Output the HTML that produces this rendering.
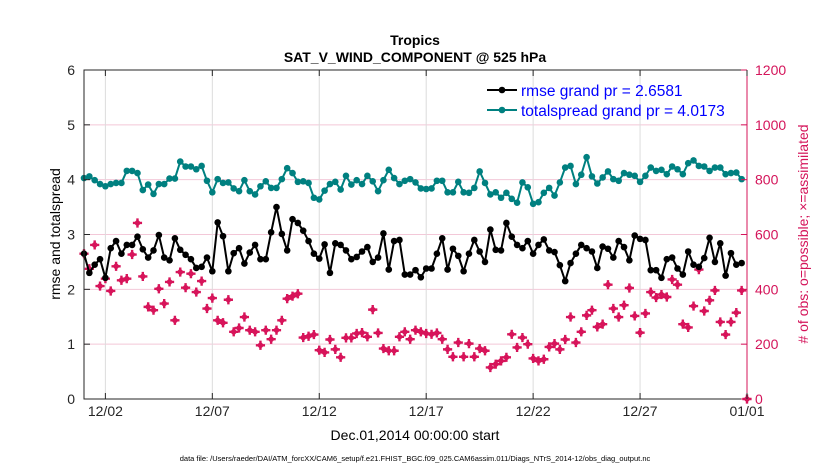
<!DOCTYPE html>
<html><head><meta charset="utf-8"><style>
body{margin:0;background:#fff;}
svg text{font-family:"Liberation Sans",Arial,sans-serif;}
</style></head><body>
<svg id="chart" width="830" height="470" viewBox="0 0 830 470" xmlns="http://www.w3.org/2000/svg">
<rect width="830" height="470" fill="#fff"/>
<g id="grid"></g>
<g id="series"></g>
<g id="axes"></g>
<g>
<line x1="487" y1="90" x2="517" y2="90" stroke="#000" stroke-width="2"/>
<circle cx="502" cy="90" r="3.3" fill="#000"/>
<text x="521" y="96" font-size="15.5" fill="#0000ff">rmse grand pr = 2.6581</text>
<line x1="487" y1="110" x2="517" y2="110" stroke="#008080" stroke-width="2"/>
<circle cx="502" cy="110" r="3.3" fill="#008080"/>
<text x="521" y="116" font-size="15.5" fill="#0000ff">totalspread grand pr = 4.0173</text>
</g>
<text x="415" y="45" text-anchor="middle" font-size="14" font-weight="bold">Tropics</text>
<text x="415" y="62" text-anchor="middle" font-size="14" font-weight="bold">SAT_V_WIND_COMPONENT @ 525 hPa</text>
<text transform="translate(60,234) rotate(-90)" text-anchor="middle" font-size="14">rmse and totalspread</text>
<text transform="translate(808,234) rotate(-90)" text-anchor="middle" font-size="14" fill="#d4145a"># of obs: o=possible; ×=assimilated</text>
<text x="415" y="440" text-anchor="middle" font-size="14">Dec.01,2014 00:00:00 start</text>
<text x="415" y="461" text-anchor="middle" font-size="7.5">data file: /Users/raeder/DAI/ATM_forcXX/CAM6_setup/f.e21.FHIST_BGC.f09_025.CAM6assim.011/Diags_NTrS_2014-12/obs_diag_output.nc</text>
</svg>
<script>
const rmse=[2.65,2.30,2.45,2.55,2.21,2.75,2.88,2.65,2.81,2.81,2.96,2.73,2.58,2.71,2.99,2.58,2.53,2.93,2.72,2.63,2.55,2.39,2.41,2.58,2.33,3.22,2.97,2.33,2.66,2.75,2.47,2.67,2.81,2.55,2.55,3.04,3.50,3.01,2.71,3.28,3.21,3.07,
2.88,2.65,2.56,2.82,2.30,2.84,2.81,2.71,2.55,2.59,2.69,2.77,2.50,2.58,3.02,2.36,2.88,2.90,2.27,2.27,2.35,2.22,2.38,2.38,2.65,2.93,2.36,2.74,2.61,2.33,2.65,2.90,2.69,2.50,3.09,2.72,2.71,3.21,2.96,2.81,2.75,
2.88,2.65,2.81,2.91,2.71,2.68,2.44,2.15,2.48,2.65,2.81,2.75,2.69,2.39,2.78,2.74,2.58,2.88,2.77,2.53,2.98,2.92,2.90,2.35,2.35,2.21,2.55,2.58,2.38,2.27,2.69,2.45,2.41,2.57,2.94,2.50,2.84,2.25,2.66,2.45,2.48];
const spread=[4.03,4.06,3.99,3.92,3.88,3.92,3.94,3.94,4.16,4.16,4.12,3.81,3.91,3.74,3.92,3.92,4.02,4.02,4.33,4.24,4.24,4.19,4.25,3.98,3.77,4.01,3.94,3.95,3.84,3.79,3.99,3.79,3.73,3.88,3.97,3.85,3.85,4.01,4.21,4.12,3.96,3.97,
3.94,3.67,3.64,3.80,3.92,3.96,3.82,4.07,3.91,3.99,3.92,4.07,3.97,3.79,3.99,4.18,4.03,3.92,3.98,4.01,3.95,3.84,3.83,3.84,3.98,3.98,3.77,3.77,3.96,3.77,3.76,3.85,4.15,3.94,3.73,3.77,3.67,3.76,3.65,3.58,3.95,
3.86,3.56,3.59,3.76,3.85,3.71,3.95,4.22,4.25,3.92,4.09,4.41,4.06,3.93,4.04,4.15,4.01,3.98,4.12,4.09,4.07,3.96,4.07,4.22,4.16,4.18,4.10,4.24,4.19,4.10,4.30,4.35,4.25,4.24,4.16,4.22,4.22,4.10,4.12,4.13,4.01];
const nobs=[530,475,562,412,439,394,484,433,439,527,642,447,336,324,402,348,427,287,463,406,457,390,430,330,368,287,278,362,245,259,299,251,245,196,251,218,251,287,366,375,384,224,
229,235,178,170,217,181,152,223,223,239,242,227,326,241,184,176,176,227,245,218,251,245,239,236,241,218,181,154,206,154,202,154,184,176,115,127,139,152,236,188,224,
200,148,139,145,190,202,181,217,299,206,245,305,324,263,273,417,330,299,342,405,303,242,312,390,370,381,372,436,417,273,261,339,472,321,360,396,281,235,281,315,396,0];
const leftTicks=[0,1,2,3,4,5,6];
const rightTicks=[0,200,400,600,800,1000,1200];
const dateTicks=[1,6,11,16,21,26,31];
const dateLabels=['12/02','12/07','12/12','12/17','12/22','12/27','01/01'];

const X0=84,X1=747,Y0=399,Y1=70;
const xs=d=>X0+(X1-X0)*d/31;
const xi=i=>xs(i*0.25);
const yl=v=>Y0-(Y0-Y1)*v/6;
const yr=v=>Y0-(Y0-Y1)*v/1200;
const NS='http://www.w3.org/2000/svg';
function mk(parent,tag,attrs){const e=document.createElementNS(NS,tag);for(const k in attrs)e.setAttribute(k,attrs[k]);parent.appendChild(e);return e;}
const grid=document.getElementById('grid'),ser=document.getElementById('series'),ax=document.getElementById('axes');

rightTicks.forEach(t=>{if(t>0&&t<1200){const l=mk(grid,'line',{x1:X0,x2:X1,y1:yr(t),y2:yr(t),stroke:'#f3c8d8','stroke-width':1});

}});
dateTicks.forEach(d=>{if(d<31){const l=mk(grid,'line',{x1:xs(d),x2:xs(d),y1:Y0,y2:Y1,stroke:'#dcdcdc','stroke-width':1});

}});

nobs.forEach((v,i)=>{const x=xi(i),y=yr(v);
const g=mk(ser,'path',{d:`M${x-3.8},${y}L${x},${y-3.8}L${x+3.8},${y}L${x},${y+3.8}Z M${x-1.2},${y-4.6}h2.4v9.2h-2.4z M${x-4.6},${y-1.2}h9.2v2.4h-9.2z`,fill:'#d7145a'});

});

function line(arr,color,name){
const p=mk(ser,'polyline',{points:arr.map((v,i)=>xi(i)+','+yl(v)).join(' '),fill:'none',stroke:color,'stroke-width':2});


arr.forEach((v,i)=>{const c=mk(ser,'circle',{cx:xi(i),cy:yl(v),r:3.3,fill:color});

});}
line(spread,'#008080','totalspread');
line(rmse,'#000000','rmse');

const axl=mk(ax,'path',{d:`M${X1},${Y1}H${X0}V${Y0}H${X1}`,fill:'none',stroke:'#262626','stroke-width':1});


const axr=mk(ax,'line',{x1:X1,x2:X1,y1:Y1,y2:Y0,stroke:'#d4145a','stroke-width':1});


leftTicks.forEach(t=>{mk(ax,'line',{x1:X0,x2:X0+6,y1:yl(t),y2:yl(t),stroke:'#262626'});
const tx=mk(ax,'text',{x:X0-9,y:yl(t)+5,'text-anchor':'end','font-size':14,fill:'#262626'});tx.textContent=t;

});
rightTicks.forEach(t=>{mk(ax,'line',{x1:X1-6,x2:X1,y1:yr(t),y2:yr(t),stroke:'#d4145a'});
const tx=mk(ax,'text',{x:X1+8,y:yr(t)+5,'font-size':14,fill:'#d4145a'});tx.textContent=t;

});
dateTicks.forEach((d,k)=>{mk(ax,'line',{x1:xs(d),x2:xs(d),y1:Y0,y2:Y0-6,stroke:'#262626'});
mk(ax,'line',{x1:xs(d),x2:xs(d),y1:Y1,y2:Y1+6,stroke:'#262626'});
const tx=mk(ax,'text',{x:xs(d),y:416,'text-anchor':'middle','font-size':14,fill:'#262626'});tx.textContent=dateLabels[k];

});
</script>
</body></html>
